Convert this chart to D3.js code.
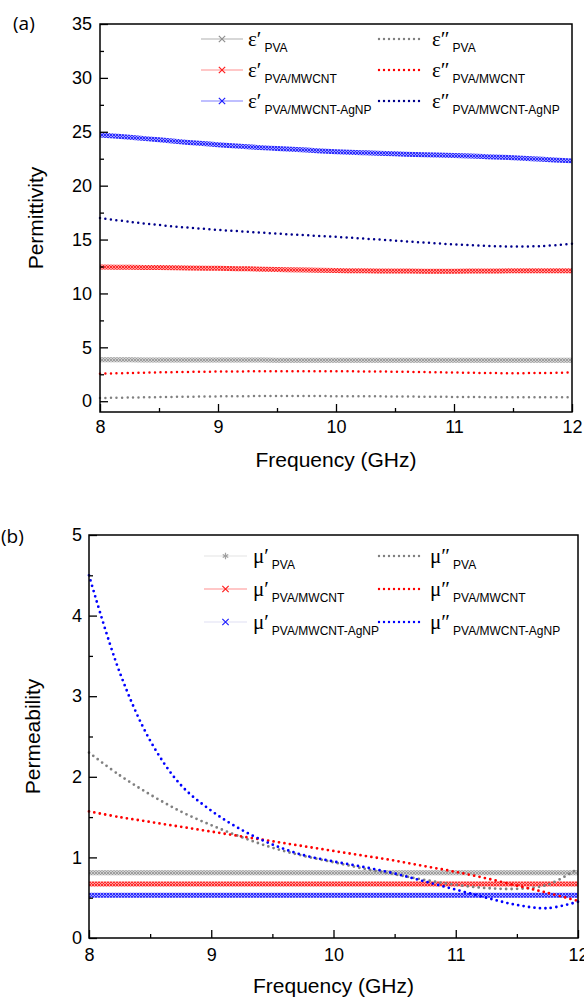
<!DOCTYPE html>
<html>
<head>
<meta charset="utf-8">
<script src="https://cdn.jsdelivr.net/npm/d3@7"></script>
<style>
  body { margin: 0; background: #fff; }
  svg text { font-family: "Liberation Sans", Arial, Helvetica, sans-serif; fill: #000; }
</style>
</head>
<body>
<div id="chart"></div>
<script>
// frequency points (GHz)
var freq = [8, 8.25, 8.5, 8.75, 9, 9.25, 9.5, 9.75, 10, 10.25, 10.5, 10.75, 11, 11.25, 11.5, 11.75, 12];

// (a) permittivity
var epsRealPVA  = [3.85, 3.84, 3.83, 3.83, 3.82, 3.82, 3.81, 3.81, 3.8, 3.8, 3.8, 3.8, 3.8, 3.8, 3.8, 3.8, 3.8];
var epsImagPVA  = [0.3, 0.34, 0.38, 0.42, 0.45, 0.47, 0.48, 0.48, 0.47, 0.46, 0.44, 0.42, 0.4, 0.38, 0.37, 0.36, 0.36];
var epsRealCNT  = [12.45, 12.42, 12.4, 12.37, 12.33, 12.28, 12.22, 12.17, 12.13, 12.1, 12.08, 12.07, 12.07, 12.08, 12.1, 12.1, 12.1];
var epsImagCNT  = [2.55, 2.62, 2.68, 2.72, 2.75, 2.77, 2.78, 2.78, 2.78, 2.76, 2.74, 2.7, 2.66, 2.62, 2.6, 2.62, 2.66];
var epsRealAg   = [24.7, 24.5, 24.25, 24.0, 23.8, 23.6, 23.45, 23.3, 23.15, 23.05, 22.95, 22.88, 22.8, 22.7, 22.6, 22.45, 22.3];
var epsImagAg   = [17.0, 16.65, 16.35, 16.1, 15.9, 15.72, 15.55, 15.4, 15.25, 15.08, 14.9, 14.72, 14.55, 14.42, 14.35, 14.4, 14.6];

// (b) permeability
var muRealPVA = [0.81, 0.81, 0.81, 0.81, 0.81, 0.81, 0.81, 0.81, 0.81, 0.81, 0.81, 0.81, 0.81, 0.81, 0.81, 0.81, 0.81];
var muImagPVA = [2.3, 2.02, 1.78, 1.57, 1.4, 1.25, 1.12, 1.02, 0.94, 0.86, 0.79, 0.72, 0.66, 0.62, 0.61, 0.66, 0.86];
var muRealCNT = [0.67, 0.67, 0.67, 0.67, 0.67, 0.67, 0.67, 0.67, 0.67, 0.67, 0.67, 0.67, 0.67, 0.67, 0.67, 0.67, 0.67];
var muImagCNT = [1.57, 1.5, 1.44, 1.38, 1.32, 1.26, 1.2, 1.14, 1.08, 1.02, 0.96, 0.89, 0.82, 0.74, 0.65, 0.56, 0.46];
var muRealAg  = [0.53, 0.53, 0.53, 0.53, 0.53, 0.53, 0.53, 0.53, 0.53, 0.53, 0.53, 0.53, 0.53, 0.53, 0.53, 0.53, 0.53];
var muImagAg  = [4.5, 3.3, 2.45, 1.9, 1.58, 1.34, 1.16, 1.03, 0.95, 0.88, 0.8, 0.7, 0.6, 0.5, 0.41, 0.37, 0.45];

var xTicks = [8, 9, 10, 11, 12];
var xMinor = [8.5, 9.5, 10.5, 11.5];
var epsTicks = [0, 5, 10, 15, 20, 25, 30, 35];
var epsMinor = [2.5, 7.5, 12.5, 17.5, 22.5, 27.5, 32.5];
var muTicks = [0, 1, 2, 3, 4, 5];
var muMinor = [0.5, 1.5, 2.5, 3.5, 4.5];

var sansFont = "'Liberation Sans', Arial, Helvetica, sans-serif";
var svg = d3.select("#chart").append("svg").attr("width", 584).attr("height", 997)
  .style("font-family", sansFont);
var defs = svg.append("defs");

// hatch patterns to mimic the dense star markers
function hatch(id, bg, fg) {
  var p = defs.append("pattern").attr("id", id).attr("patternUnits", "userSpaceOnUse")
    .attr("width", 3).attr("height", 3);
  p.append("rect").attr("width", 3).attr("height", 3).attr("fill", bg);
  p.append("path").attr("d", "M0,0L3,3M3,0L0,3").attr("stroke", fg).attr("stroke-width", 0.9);
}
hatch("hGray", "#d0d0d0", "#9a9a9a");
hatch("hRed", "#ff9a9a", "#ff2020");
hatch("hBlue", "#9a9aff", "#2020ff");

function drawPanel(cfg) {
  var x = d3.scaleLinear().domain([8, 12]).range(cfg.xRange);
  var y = d3.scaleLinear().domain(cfg.yDomain).range(cfg.yRange);
  var g = svg.append("g");

  var line = d3.line().x(function(d) { return x(d[0]); }).y(function(d) { return y(d[1]); })
    .curve(d3.curveCatmullRom.alpha(0.5));

  cfg.series.forEach(function(s) {
    var pts = freq.map(function(f, i) { return [f, s.values[i]]; });
    var path = g.append("path").datum(pts).attr("d", line).attr("fill", "none");
    if (s.kind === "band") {
      path.attr("stroke", s.pattern).attr("stroke-width", 5);
    } else {
      path.attr("stroke", s.color).attr("stroke-width", cfg.dotSize)
        .attr("stroke-dasharray", "0 " + cfg.dotGap).attr("stroke-linecap", "round");
    }
  });

  // axes, inward ticks
  g.append("g").attr("transform", "translate(" + cfg.xRange[0] + ",0)")
    .call(d3.axisLeft(y).tickValues(cfg.yTicks).tickSize(-8).tickPadding(cfg.yPad).tickFormat(d3.format("d")));
  g.append("g").attr("transform", "translate(" + cfg.xRange[0] + ",0)")
    .call(d3.axisLeft(y).tickValues(cfg.yMinor).tickSize(-4).tickFormat(""));
  g.append("g").attr("transform", "translate(0," + cfg.yRange[0] + ")")
    .call(d3.axisBottom(x).tickValues(xTicks).tickSize(-8).tickPadding(cfg.xPad).tickFormat(d3.format("d")));
  g.append("g").attr("transform", "translate(0," + cfg.yRange[0] + ")")
    .call(d3.axisBottom(x).tickValues(xMinor).tickSize(-4).tickFormat(""));
  g.selectAll(".domain").remove();
  g.selectAll("g.tick line").attr("stroke", "#000").attr("stroke-width", 1.3);
  g.selectAll("g.tick text").style("font-size", "18px").style("font-family", sansFont);

  g.append("rect").attr("x", cfg.xRange[0]).attr("y", cfg.yRange[1])
    .attr("width", cfg.xRange[1] - cfg.xRange[0]).attr("height", cfg.yRange[0] - cfg.yRange[1])
    .attr("fill", "none").attr("stroke", "#000").attr("stroke-width", 1.5);

  // axis titles
  var cx = (cfg.xRange[0] + cfg.xRange[1]) / 2;
  g.append("text").attr("x", cx).attr("y", cfg.yRange[0] + 55).attr("text-anchor", "middle")
    .style("font-size", "21px").text("Frequency (GHz)");
  var cy = (cfg.yRange[0] + cfg.yRange[1]) / 2;
  g.append("text").attr("transform", "translate(" + cfg.yTitleX + "," + cy + ") rotate(-90)")
    .attr("text-anchor", "middle").style("font-size", "21px").text(cfg.yTitle);
  g.append("text").attr("x", cfg.tagPos[0]).attr("y", cfg.tagPos[1])
    .style("font-family", "'Open Sans', sans-serif").style("font-size", "19px").text(cfg.tag);

  // legend
  var lg = g.append("g");
  cfg.series.forEach(function(s, i) {
    var row = i % 3, col = i < 3 ? 0 : 1;
    var ly = cfg.legendRows[row];
    if (col === 0) {
      lg.append("line").attr("x1", cfg.legCol1[0]).attr("x2", cfg.legCol1[1])
        .attr("y1", ly).attr("y2", ly).attr("stroke", s.legLine).attr("stroke-width", 1.2);
      lg.append("path").attr("d", d3.symbol().type(s.symbol).size(28)())
        .attr("transform", "translate(" + ((cfg.legCol1[0] + cfg.legCol1[1]) / 2) + "," + ly + ")")
        .attr("fill", "none").attr("stroke", s.color).attr("stroke-width", 1.2);
    } else {
      lg.append("line").attr("x1", cfg.legCol2[0]).attr("x2", cfg.legCol2[1])
        .attr("y1", ly).attr("y2", ly).attr("stroke", s.color).attr("stroke-width", 2.4)
        .attr("stroke-dasharray", "0 5").attr("stroke-linecap", "round");
    }
    var tx = col === 0 ? cfg.legCol1[2] : cfg.legCol2[2];
    var t = lg.append("text").attr("x", tx).attr("y", ly + 7);
    t.append("tspan").style("font-family", "'Liberation Serif', 'DejaVu Serif', serif")
      .style("font-size", "21px").text(s.symName);
    t.append("tspan").attr("dx", 3).attr("dy", 6).style("font-size", "12px").text(s.sub);
  });
}

drawPanel({
  xRange: [100, 572], yDomain: [-1, 35], yRange: [412, 24],
  yTicks: epsTicks, yMinor: epsMinor, yPad: 8, xPad: 8,
  yTitle: "Permittivity", yTitleX: 43, tag: "(a)", tagPos: [13, 30],
  dotSize: 2.5, dotGap: 5.5,
  legendRows: [39, 70, 101], legCol1: [201, 243, 248], legCol2: [379, 422, 432],
  series: [
    { values: epsRealPVA, kind: "band", pattern: "url(#hGray)", color: "#909090", legLine: "#b0b0b0", symbol: d3.symbolX, symName: "ε′", sub: "PVA" },
    { values: epsRealCNT, kind: "band", pattern: "url(#hRed)", color: "#ff2020", legLine: "#ff9090", symbol: d3.symbolX, symName: "ε′", sub: "PVA/MWCNT" },
    { values: epsRealAg, kind: "band", pattern: "url(#hBlue)", color: "#2020ff", legLine: "#8080ff", symbol: d3.symbolX, symName: "ε′", sub: "PVA/MWCNT-AgNP" },
    { values: epsImagPVA, kind: "dot", color: "#808080", symName: "ε″", sub: "PVA" },
    { values: epsImagCNT, kind: "dot", color: "#ff0000", symName: "ε″", sub: "PVA/MWCNT" },
    { values: epsImagAg, kind: "dot", color: "#00008b", symName: "ε″", sub: "PVA/MWCNT-AgNP" }
  ]
});

drawPanel({
  xRange: [89, 578], yDomain: [0, 5], yRange: [938, 535],
  yTicks: muTicks, yMinor: muMinor, yPad: 7, xPad: 10,
  yTitle: "Permeability", yTitleX: 40, tag: "(b)", tagPos: [1, 543],
  dotSize: 2.8, dotGap: 5.5,
  legendRows: [556, 589, 622], legCol1: [204, 247, 253], legCol2: [379, 420, 430],
  series: [
    { values: muRealPVA, kind: "band", pattern: "url(#hGray)", color: "#a0a0a0", legLine: "#e4e4e4", symbol: d3.symbolAsterisk, symName: "μ′", sub: "PVA" },
    { values: muRealCNT, kind: "band", pattern: "url(#hRed)", color: "#ff2020", legLine: "#ff9090", symbol: d3.symbolX, symName: "μ′", sub: "PVA/MWCNT" },
    { values: muRealAg, kind: "band", pattern: "url(#hBlue)", color: "#2020ff", legLine: "#e0e0f4", symbol: d3.symbolX, symName: "μ′", sub: "PVA/MWCNT-AgNP" },
    { values: muImagPVA, kind: "dot", color: "#808080", symName: "μ″", sub: "PVA" },
    { values: muImagCNT, kind: "dot", color: "#ff0000", symName: "μ″", sub: "PVA/MWCNT" },
    { values: muImagAg, kind: "dot", color: "#0000ff", symName: "μ″", sub: "PVA/MWCNT-AgNP" }
  ]
});
</script>
</body>
</html>
